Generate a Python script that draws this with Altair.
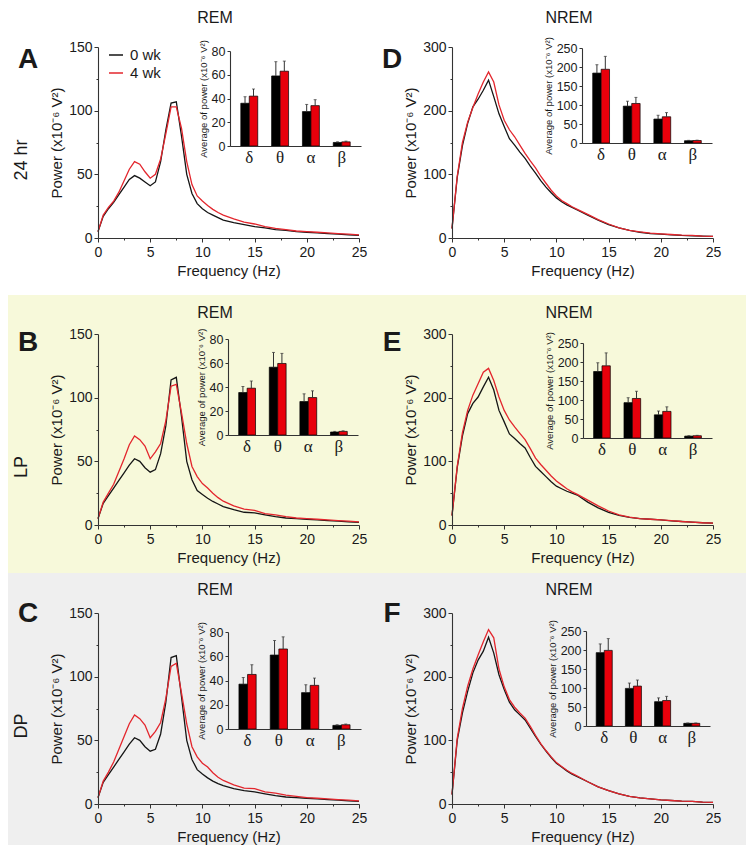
import altair as alt
import pandas as pd

W, H = 738, 837
SANS = "Liberation Sans"
SERIF = "Liberation Serif"

# ---------------- data ----------------
freq = [0, 0.5, 1, 1.5, 2, 2.5, 3, 3.5, 4, 4.5, 5, 5.5, 6, 6.5, 7, 7.5, 8, 8.5, 9, 9.5,
        10, 10.5, 11, 11.5, 12, 13, 14, 15, 16, 17, 18, 19, 20, 21, 22, 23, 24, 25]
weeks = ["0 wk", "4 wk"]
bands = ["δ", "θ", "α", "β"]

A_0wk = [5, 17, 23, 28, 34, 40, 46, 49, 47, 44, 41, 44, 60, 85, 106, 107, 80, 50, 35, 27, 23, 20, 18, 16, 14,
         12, 10.5, 9, 8, 6.5, 6, 5, 4.5, 4, 3.5, 3, 2.5, 2]
A_4wk = [5, 18, 24, 29, 36, 45, 54, 60, 58, 52, 47, 50, 62, 82, 103, 103, 86, 60, 42, 33, 29, 25.5, 22.5, 20, 18,
         15, 12.5, 11, 9, 7.5, 6.5, 5.5, 5, 4.5, 4, 3.5, 3, 2.5]
B_0wk = [5, 17, 23, 29, 35, 41, 47, 52, 50, 45, 41.5, 43.5, 56, 78, 114, 116, 85, 50, 35.5, 27, 24, 21, 18.5, 16.5, 14.5,
         12, 10, 9.5, 8, 6.5, 5.5, 5, 4.5, 4, 3.5, 3, 2.5, 2]
B_4wk = [5, 18, 25, 32, 42, 52, 63, 70, 67, 62, 52, 57.5, 64, 82, 109, 110.5, 88, 64, 46, 38, 32.5, 29, 25, 21.5, 18.7,
         15, 12.5, 11.5, 9, 8, 6.5, 5.5, 5, 4.5, 4, 3.5, 3, 2.5]
C_0wk = [5, 17, 23, 29, 35, 41, 47, 52, 50, 45, 41.5, 43, 55, 80, 115, 116.5, 84, 50, 35, 27, 23.5, 20.5, 18, 16, 14.5,
         12, 10.5, 9.5, 8, 6.5, 5.5, 5, 4.5, 4, 3.5, 3, 2.5, 2]
C_4wk = [5, 18, 25, 33, 43, 53, 63, 70, 67, 62, 52, 57, 64, 83, 108, 110.5, 87, 63, 45, 37, 32, 29, 24.5, 21, 18.5,
         15, 12.5, 12, 9.5, 8.5, 7, 6, 5, 4.5, 4, 3.5, 3, 2.5]
D_0wk = [15, 95, 145, 180, 206, 218, 232, 248, 222, 195, 175, 156, 146, 135, 125, 113, 102, 90, 80, 71, 63, 57, 52, 48, 44,
         36, 28, 21, 16, 12, 9, 7, 6, 5, 4, 3.5, 3, 2.5]
D_4wk = [15, 97, 150, 182, 205, 226, 245, 261, 245, 209, 185, 170, 159, 146, 133, 121, 110, 97, 86, 75, 66, 59, 54, 49, 45,
         37, 29, 22, 16, 12, 9.5, 7.5, 6.5, 5.5, 4.5, 4, 3, 2.5]
E_0wk = [15, 90, 140, 175, 191, 201, 217, 232, 212, 180, 162, 143, 136, 128, 121, 106, 92, 84, 76, 68, 61, 57, 53, 50, 47,
         36, 27, 20, 15, 12, 10, 9, 8, 6.5, 5.5, 4.5, 3.5, 3]
E_4wk = [15, 92, 145, 180, 204, 222, 240, 246, 227, 201, 180, 165, 154, 144, 134, 120, 105, 95, 86, 77, 69, 63, 57, 52, 48,
         39, 30, 22, 16, 12.5, 10, 9, 8, 7, 5.5, 4.5, 3.5, 3]
F_0wk = [15, 100, 143, 177, 206, 226, 240, 262, 237, 203, 180, 160, 148, 140, 132, 119, 106, 94, 83, 73, 64, 58, 52, 47, 43,
         35, 27, 21, 16, 12, 9.5, 8, 6.5, 5.5, 4.5, 4, 3, 2.5]
F_4wk = [15, 103, 150, 185, 212, 234, 255, 274, 261, 212, 184, 164, 152, 143, 135, 122, 108, 95, 84, 74, 65, 59, 53, 48, 44,
         35, 27, 21, 16, 12, 9.5, 8, 6.5, 5.5, 4.5, 4, 3, 2.5]

# inset bar means and upper error (SEM)
A_bar_0wk = [36, 59, 29, 3];        A_err_0wk = [5.5, 12, 6, 0.5]
A_bar_4wk = [42, 63, 34, 3.5];      A_err_4wk = [6, 8.5, 5, 0.6]
B_bar_0wk = [35.4, 56.5, 27.9, 2.5]; B_err_0wk = [5, 12.3, 6.4, 0.5]
B_bar_4wk = [39, 59.6, 31.2, 3];    B_err_4wk = [6, 8.4, 5.6, 0.5]
C_bar_0wk = [37, 61, 30, 3];        C_err_0wk = [5.5, 12, 6.5, 0.5]
C_bar_4wk = [45, 66, 36, 3.5];      C_err_4wk = [8, 10, 6, 0.6]
D_bar_0wk = [184, 97, 63, 6];       D_err_0wk = [22, 13, 10, 1]
D_bar_4wk = [194, 104, 69, 6.5];    D_err_4wk = [34, 16, 11, 1]
E_bar_0wk = [175, 93, 61, 5];       E_err_0wk = [23, 13, 10, 1]
E_bar_4wk = [190, 104, 70, 6];      E_err_4wk = [34, 19, 12, 1]
F_bar_0wk = [193, 99, 64, 7];       F_err_0wk = [23, 14, 10, 1]
F_bar_4wk = [199, 105, 67, 7];      F_err_4wk = [31, 16, 11, 1]

rem_ticks = [0, 50, 100, 150]
rem_minor = [25, 75, 125]
nrem_ticks = [0, 100, 200, 300]
nrem_minor = [50, 150, 250]
x_ticks = [0, 5, 10, 15, 20, 25]
x_minor = [2.5, 7.5, 12.5, 17.5, 22.5]
rem_inset_ticks = [0, 20, 40, 60, 80]
nrem_inset_ticks = [0, 50, 100, 150, 200, 250]

line_colors = ["#151515", "#e3262d"]
bar_colors = ["#000000", "#e8000b"]
INK = "#1a1a1a"

# ---------------- layout (pixels) ----------------
ROWS = [(39, 230), (326, 517), (605, 796)]
LEFT = (90, 351)
RIGHT = (444, 705)

layers = []

# row backgrounds
for (y0, y1, col) in [(0, 287, "#ffffff"), (287, 565, "#f7f9da"), (565, H, "#efefef")]:
    layers.append(
        alt.Chart(pd.DataFrame({"k": [0]})).mark_rect(color=col).encode(
            x=alt.value(0), x2=alt.value(W), y=alt.value(y0), y2=alt.value(y1))
    )


def main_panel(p0, p4, xr, yr, ymax, yvals, yminor, legend=False):
    x0, x1 = xr
    yt, yb = yr
    n = len(freq)
    df = pd.DataFrame({"freq": freq + freq, "power": p0 + p4,
                       "week": [weeks[0]] * n + [weeks[1]] * n})
    xsc = alt.Scale(domain=[0, 25], range=[x0, x1], nice=False, zero=False)
    ysc = alt.Scale(domain=[0, ymax], range=[yb, yt], nice=False)
    if legend:
        leg = alt.Legend(orient="none", legendX=x0 + 10, legendY=yt, title=None,
                         symbolType="stroke", symbolSize=196, symbolStrokeWidth=1.5,
                         labelFontSize=15, labelFont=SANS, labelColor=INK,
                         rowPadding=2, labelOffset=6, padding=0, zindex=2)
    else:
        leg = None
    lines = alt.Chart(df).mark_line(strokeWidth=1.3).encode(
        x=alt.X("freq:Q", scale=xsc,
                axis=alt.Axis(orient="bottom", offset=yb - H, values=x_ticks, zindex=2,
                              title="Frequency (Hz)", titleFontSize=15, titlePadding=4,
                              labelFontSize=14, labelFlush=False, tickSize=4, labelPadding=3)),
        y=alt.Y("power:Q", scale=ysc,
                axis=alt.Axis(orient="left", offset=-x0, values=yvals, zindex=2,
                              title="Power (x10⁻⁶ V²)", titleFontSize=15, titlePadding=4,
                              labelFontSize=14, tickSize=4, labelPadding=2)),
        color=alt.Color("week:N", scale=alt.Scale(domain=weeks, range=line_colors), legend=leg),
    )
    minor = alt.Chart(df).mark_point(opacity=0).encode(
        x=alt.X("freq:Q", scale=xsc,
                axis=alt.Axis(orient="bottom", offset=yb - H, values=x_minor, labels=False, zindex=2,
                              domain=False, title=None, tickSize=2)),
        y=alt.Y("power:Q", scale=ysc,
                axis=alt.Axis(orient="left", offset=-x0, values=yminor, labels=False, zindex=2,
                              domain=False, title=None, tickSize=2)),
    )
    return [lines, minor]


def inset(v0, v4, e0, e4, xr, yr, ymax, yvals):
    x0, x1 = xr
    yt, yb = yr
    df = pd.DataFrame({"band": bands + bands, "week": [weeks[0]] * 4 + [weeks[1]] * 4,
                       "value": v0 + v4, "err": e0 + e4})
    base = alt.Chart(df).transform_calculate(hi="datum.value + datum.err")
    xsc = alt.Scale(domain=bands, range=[x0, x1], paddingInner=0.45, paddingOuter=0.35)
    ysc = alt.Scale(domain=[0, ymax], range=[yb, yt], nice=False)
    xo = alt.XOffset("week:N", sort=weeks, scale=alt.Scale(domain=weeks, paddingInner=0))
    bars = base.mark_bar(stroke="#000000", strokeWidth=0.7).encode(
        x=alt.X("band:N", sort=bands, scale=xsc,
                axis=alt.Axis(orient="bottom", offset=yb - H, title=None, labelAngle=0, zindex=2,
                              labelFont=SERIF, labelFontSize=17, ticks=False, labelPadding=3)),
        xOffset=xo,
        y=alt.Y("value:Q", scale=ysc,
                axis=alt.Axis(orient="left", offset=-x0, values=yvals, zindex=2,
                              title="Average of power (x10⁻⁶ V²)", titleFontSize=9.5,
                              titlePadding=3, labelFontSize=12.5, tickSize=3, labelPadding=2)),
        color=alt.Color("week:N", scale=alt.Scale(domain=weeks, range=bar_colors), legend=None),
    )
    rules = base.mark_rule(color="#333333", strokeWidth=1).encode(
        x=alt.X("band:N", sort=bands, scale=xsc, axis=None),
        xOffset=xo,
        y=alt.Y("value:Q", scale=ysc, axis=None),
        y2="hi:Q",
    )
    caps = base.mark_tick(orient="horizontal", size=3, thickness=1, color="#333333").encode(
        x=alt.X("band:N", sort=bands, scale=xsc, axis=None),
        xOffset=xo,
        y=alt.Y("hi:Q", scale=ysc, axis=None),
    )
    return [bars, rules, caps]


def text(t, x, y, size, weight="normal", angle=0, font=SANS):
    return alt.Chart(pd.DataFrame({"t": [t]})).mark_text(
        fontSize=size, fontWeight=weight, angle=angle, font=font, color=INK,
        align="center", baseline="middle").encode(
        x=alt.value(x), y=alt.value(y), text="t:N")


panels = [
    ("A", A_0wk, A_4wk, (A_bar_0wk, A_bar_4wk, A_err_0wk, A_err_4wk), LEFT, 0, 150, rem_ticks, rem_minor,
     (222, 353), (43, 138), 80, rem_inset_ticks),
    ("B", B_0wk, B_4wk, (B_bar_0wk, B_bar_4wk, B_err_0wk, B_err_4wk), LEFT, 1, 150, rem_ticks, rem_minor,
     (220, 350), (331, 427), 80, rem_inset_ticks),
    ("C", C_0wk, C_4wk, (C_bar_0wk, C_bar_4wk, C_err_0wk, C_err_4wk), LEFT, 2, 150, rem_ticks, rem_minor,
     (220, 353), (624, 721), 80, rem_inset_ticks),
    ("D", D_0wk, D_4wk, (D_bar_0wk, D_bar_4wk, D_err_0wk, D_err_4wk), RIGHT, 0, 300, nrem_ticks, nrem_minor,
     (574, 704), (40, 135), 250, nrem_inset_ticks),
    ("E", E_0wk, E_4wk, (E_bar_0wk, E_bar_4wk, E_err_0wk, E_err_4wk), RIGHT, 1, 300, nrem_ticks, nrem_minor,
     (575, 704), (335, 430), 250, nrem_inset_ticks),
    ("F", F_0wk, F_4wk, (F_bar_0wk, F_bar_4wk, F_err_0wk, F_err_4wk), RIGHT, 2, 300, nrem_ticks, nrem_minor,
     (578, 702), (623, 718), 250, nrem_inset_ticks),
]

title_y = [10, 305, 582]
letter_y = [52, 335, 606]

for (letter, c0, c4, bars, xr, row, ymax, yt, ym, ixr, iyr, iymax, iyt) in panels:
    layers += main_panel(c0, c4, xr, ROWS[row], ymax, yt, ym, legend=(letter == "A"))
    layers += inset(*bars, ixr, iyr, iymax, iyt)
    left = xr == LEFT
    layers.append(text("REM" if left else "NREM", 207 if left else 561, title_y[row], 16))
    layers.append(text(letter, 20 if left else 384, letter_y[row], 28, weight="bold"))

layers.append(text("24 hr", 14, 152, 18, angle=270))
layers.append(text("LP", 14, 459, 18, angle=270))
layers.append(text("DP", 14, 718, 18, angle=270))

chart = alt.layer(*layers).resolve_scale(
    x="independent", y="independent", color="independent", xOffset="independent"
).properties(
    width=W, height=H, padding=0, autosize=alt.AutoSizeParams(type="none"), background="white"
).configure_view(strokeWidth=0).configure_axis(
    grid=False, labelFont=SANS, titleFont=SANS, labelColor=INK, titleColor=INK,
    domainColor="#333333", tickColor="#333333", titleFontWeight="normal", domainWidth=1.1
)

chart.save("out.html", embed_options={"renderer": "svg", "actions": False})
